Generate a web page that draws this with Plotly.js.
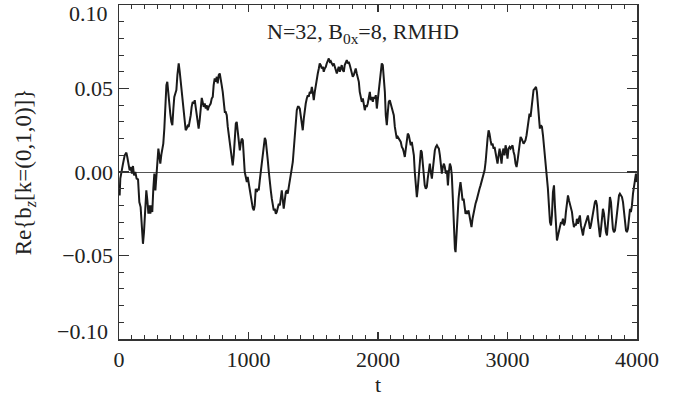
<!DOCTYPE html>
<html>
<head>
<meta charset="utf-8">
<script src="https://cdn.plot.ly/plotly-3.0.1.min.js"></script>
<style>html,body{margin:0;padding:0;background:#fff;}#chart{width:685px;height:398px;}</style>
</head>
<body>
<div id="chart"></div>
<script>
const tSeg1 = [0,5,10,18,31,44,57,64,75,82,90,100,108,116,126,136,147,157,167,178,185,193,203,211,219,227,234,242,250,257,265,273,281,288,296,304,311,319,327,335,342,350,358,366,373,381,389,396,404,412,420,427,435,443,451,461,469,476,484,492,500,507,515,523,530,538,546,554,561,569,577,585,592,600,608,615,623,631,639,646,654,662,670,677,685,693,700,708,716,724,731,739,747,755,762,770];
const bSeg1 = [-0.008,-0.014,-0.004,0.0,0.005,0.010,0.0116,0.009,0.004,0.001,0.003,-0.001,0.0036,-0.002,0.0,-0.004,-0.0044,-0.018,-0.021,-0.034,-0.043,-0.036,-0.018,-0.011,-0.017,-0.025,-0.020,-0.025,-0.020,-0.024,-0.010,-0.001,-0.011,-0.001,0.005,0.014,0.010,0.005,0.0104,0.014,0.017,0.026,0.040,0.052,0.054,0.046,0.039,0.035,0.030,0.028,0.038,0.045,0.047,0.049,0.058,0.065,0.060,0.054,0.048,0.041,0.034,0.028,0.025,0.026,0.0276,0.027,0.030,0.034,0.039,0.042,0.041,0.043,0.039,0.035,0.030,0.026,0.031,0.040,0.0444,0.042,0.039,0.041,0.038,0.040,0.037,0.039,0.040,0.041,0.044,0.045,0.052,0.056,0.054,0.057,0.053,0.058];

const tSeg2 = [778,786,793,801,809,817,824,832,840,848,855,863,871,878,886,894,902,909,917,925,933,940,948,956,963,971,979,987,994,1002,1010,1017,1025,1033,1041,1048,1056,1064,1072,1079,1087,1095,1102,1110,1118,1126,1133,1141,1149,1157,1164,1172,1180,1187,1195,1203,1211,1218,1226,1234,1242,1249,1257,1265,1272,1280,1288,1296,1303,1311,1319,1326,1334,1342,1350,1357,1365,1373,1381,1388,1396,1404,1411,1419,1427,1435,1442,1450,1458,1465,1473,1481,1489,1496,1504,1512,1520,1527,1535,1543,1550,1558,1566,1574,1581];
const bSeg2 = [0.059,0.056,0.052,0.048,0.039,0.036,0.036,0.034,0.027,0.022,0.019,0.014,0.007,0.004,0.010,0.022,0.029,0.030,0.024,0.016,0.013,0.017,0.020,0.019,0.010,0.0,-0.003,-0.006,-0.003,-0.007,-0.010,-0.014,-0.018,-0.0216,-0.023,-0.020,-0.010,-0.012,-0.010,-0.011,-0.005,0.0,0.008,0.013,0.017,0.0204,0.019,0.014,0.007,0.0,-0.008,-0.011,-0.016,-0.021,-0.023,-0.022,-0.025,-0.024,-0.022,-0.019,-0.020,-0.014,-0.011,-0.017,-0.022,-0.017,-0.012,-0.011,-0.013,-0.009,-0.004,-0.002,0.002,0.006,0.014,0.023,0.030,0.037,0.039,0.039,0.038,0.034,0.028,0.025,0.032,0.038,0.041,0.044,0.046,0.045,0.048,0.047,0.051,0.048,0.043,0.048,0.053,0.055,0.059,0.062,0.065,0.064,0.062,0.063,0.060];

const tSeg3 = [1589,1597,1604,1612,1620,1628,1635,1643,1651,1659,1666,1674,1682,1689,1697,1705,1713,1720,1728,1736,1743,1751,1759,1767,1774,1782,1790,1798,1805,1813,1821,1828,1836,1844,1852,1859,1867,1875,1883,1890,1898,1906,1913,1921,1929,1937,1944,1952,1960,1968,1975,1983,1991,1998,2006,2014,2022,2029,2037,2045,2053,2060,2068,2076,2083,2091,2099,2107,2114,2122,2130,2138,2145,2153,2161,2168,2176,2184,2192,2199,2207,2215,2222,2230,2238,2246,2253,2261,2269,2277,2284,2292,2300,2307,2315,2323,2331,2338,2346,2354,2361,2369,2377,2384,2392];
const bSeg3 = [0.062,0.063,0.065,0.067,0.068,0.066,0.0664,0.065,0.064,0.065,0.063,0.061,0.059,0.061,0.063,0.060,0.062,0.064,0.061,0.060,0.064,0.066,0.067,0.065,0.066,0.064,0.061,0.059,0.057,0.058,0.060,0.062,0.059,0.056,0.054,0.048,0.044,0.042,0.044,0.039,0.037,0.040,0.039,0.041,0.046,0.048,0.043,0.045,0.042,0.045,0.044,0.046,0.038,0.043,0.050,0.057,0.062,0.065,0.064,0.058,0.048,0.034,0.028,0.036,0.042,0.043,0.041,0.039,0.036,0.034,0.027,0.022,0.020,0.021,0.020,0.019,0.018,0.015,0.014,0.012,0.009,0.014,0.019,0.023,0.022,0.017,0.016,0.018,0.013,0.010,0.0,-0.010,-0.015,-0.010,0.0,0.008,0.013,0.012,0.005,-0.004,-0.008,-0.010,-0.009,-0.004,0.003];

const tSeg4 = [2400,2408,2416,2424,2431,2439,2447,2455,2462,2470,2478,2485,2493,2501,2509,2516,2524,2532,2540,2547,2555,2563,2570,2578,2586,2594,2599,2606,2614,2622,2630,2637,2645,2653,2661,2668,2676,2684,2691,2699,2707,2715,2722,2730,2738,2746,2753,2761,2769,2776,2784,2792,2800,2807,2815,2823,2831,2838,2846,2854,2861,2869,2877,2885,2892,2900,2908,2915,2923,2931,2939,2946,2954,2962,2969,2977,2985,2993,3000,3008,3016,3024,3031,3039,3047,3054,3062,3070,3078,3086,3093,3101,3109,3116,3124,3132,3139,3147,3155,3163,3170,3178,3186,3194,3201];
const bSeg4 = [0.005,0.0,-0.004,0.002,0.008,0.013,0.015,0.016,0.015,0.014,0.010,0.004,-0.001,0.003,0.005,0.003,-0.001,0.001,-0.008,0.0,0.005,0.003,-0.002,-0.016,-0.034,-0.046,-0.048,-0.038,-0.024,-0.016,-0.010,-0.006,-0.011,-0.017,-0.016,-0.020,-0.025,-0.024,-0.025,-0.023,-0.027,-0.030,-0.033,-0.028,-0.024,-0.020,-0.019,-0.017,-0.014,-0.012,-0.010,-0.008,-0.006,-0.003,-0.001,0.001,0.006,0.014,0.020,0.025,0.023,0.019,0.016,0.017,0.014,0.015,0.012,0.008,0.005,0.010,0.014,0.010,0.005,0.012,0.014,0.010,0.016,0.013,0.008,0.014,0.015,0.014,0.015,0.016,0.012,0.010,0.005,0.003,0.007,0.012,0.016,0.021,0.020,0.018,0.017,0.018,0.019,0.022,0.026,0.029,0.035,0.033,0.039,0.046,0.049];

const tSeg5 = [3212,3220,3227,3235,3243,3250,3258,3266,3274,3281,3289,3297,3305,3312,3320,3328,3336,3343,3351,3359,3366,3374,3382,3390,3397,3405,3413,3420,3428,3436,3444,3451,3459,3467,3475,3482,3490,3498,3505,3513,3521,3529,3536,3544,3552,3559,3567,3575,3583,3590,3598,3606,3614,3621,3629,3637,3644,3652,3660,3668,3675,3683,3691,3698,3706,3714,3722,3729,3737,3745,3753,3760,3768,3776,3783,3791,3799,3807,3814,3822,3830,3838,3845,3853,3861,3868,3876,3884,3892,3899,3907,3915,3922,3930,3938,3946,3953,3961,3969,3977,3985,3992,4000];
const bSeg5 = [0.050,0.051,0.048,0.040,0.031,0.026,0.028,0.027,0.022,0.016,0.010,0.004,-0.002,-0.010,-0.020,-0.030,-0.032,-0.026,-0.012,-0.008,-0.020,-0.034,-0.041,-0.038,-0.035,-0.034,-0.030,-0.031,-0.028,-0.032,-0.030,-0.024,-0.018,-0.014,-0.017,-0.019,-0.021,-0.024,-0.029,-0.033,-0.031,-0.032,-0.028,-0.031,-0.028,-0.026,-0.032,-0.035,-0.038,-0.034,-0.032,-0.030,-0.029,-0.026,-0.030,-0.034,-0.032,-0.028,-0.024,-0.020,-0.018,-0.017,-0.020,-0.028,-0.036,-0.039,-0.034,-0.026,-0.022,-0.025,-0.032,-0.036,-0.038,-0.032,-0.024,-0.015,-0.018,-0.027,-0.034,-0.036,-0.035,-0.030,-0.024,-0.017,-0.014,-0.013,-0.014,-0.015,-0.018,-0.024,-0.030,-0.035,-0.036,-0.034,-0.028,-0.022,-0.024,-0.020,-0.013,-0.008,-0.002,-0.001,-0.006];

const tValues = [].concat(tSeg1, tSeg2, tSeg3, tSeg4, tSeg5);
const bzValues = [].concat(bSeg1, bSeg2, bSeg3, bSeg4, bSeg5);

const xTickVals = [0, 1000, 2000, 3000, 4000];
const xTickText = ['0', '1000', '2000', '3000', '4000'];
const yTickVals = [-0.05, 0.0, 0.05];
const yTickText = ['\u22120.05', '0.00', '0.05'];
const yEndVals = [0.10, -0.10];
const yEndText = ['0.10', '\u22120.10'];

const titleText = 'N=32, B<sub>0x</sub>=8, RMHD';
const xTitle = 't';
const yTitle = 'Re{b<sub><i>z</i></sub>[k=(0,1,0)]}';

const FONT = '"Liberation Serif", "Times New Roman", serif';
const INK = '#222';

const trace = {
  x: tValues, y: bzValues, type: 'scatter', mode: 'lines',
  line: {color: '#1a1a1a', width: 2}, hoverinfo: 'skip'
};

const annotations = [
  {text: titleText, xref: 'paper', yref: 'paper', x: 0.472, y: 0.917,
   xanchor: 'center', yanchor: 'middle', showarrow: false,
   font: {family: FONT, size: 22, color: INK}}
];
yEndVals.forEach((v, i) => {
  annotations.push({text: yEndText[i], xref: 'paper', yref: 'y', x: 0, y: v,
    xanchor: 'right', yanchor: 'middle', xshift: -9, yshift: v > 0 ? -8 : 8,
    showarrow: false, font: {family: FONT, size: 22, color: INK}});
});

const layout = {
  width: 685, height: 398,
  margin: {l: 119, r: 48, t: 5, b: 59},
  paper_bgcolor: '#fff', plot_bgcolor: '#fff',
  showlegend: false,
  font: {family: FONT, size: 22, color: INK},
  xaxis: {
    range: [0, 4000], tickvals: xTickVals, ticktext: xTickText,
    ticks: 'inside', ticklen: 7, tickwidth: 1.2, tickcolor: '#333',
    minor: {dtick: 100, ticklen: 4, tickwidth: 1, tickcolor: '#333', ticks: 'inside'},
    showline: true, linecolor: '#333', linewidth: 1.5, mirror: 'allticks',
    showgrid: false, zeroline: false,
    tickfont: {family: FONT, size: 22, color: INK},
    title: {text: xTitle, font: {family: FONT, size: 22, color: INK}, standoff: 4}
  },
  yaxis: {
    range: [-0.1, 0.1], tickvals: yTickVals, ticktext: yTickText,
    ticks: 'inside', ticklen: 10, tickwidth: 1.2, tickcolor: '#333',
    minor: {dtick: 0.01, ticklen: 5, tickwidth: 1, tickcolor: '#333', ticks: 'inside'},
    showline: true, linecolor: '#333', linewidth: 1.5, mirror: 'allticks',
    showgrid: false, zeroline: true, zerolinecolor: '#555', zerolinewidth: 1,
    tickfont: {family: FONT, size: 22, color: INK},
    title: {text: yTitle, font: {family: FONT, size: 23, color: INK}, standoff: 24}
  },
  annotations: annotations
};

Plotly.newPlot('chart', [trace], layout, {staticPlot: true, displayModeBar: false});
</script>
</body>
</html>
